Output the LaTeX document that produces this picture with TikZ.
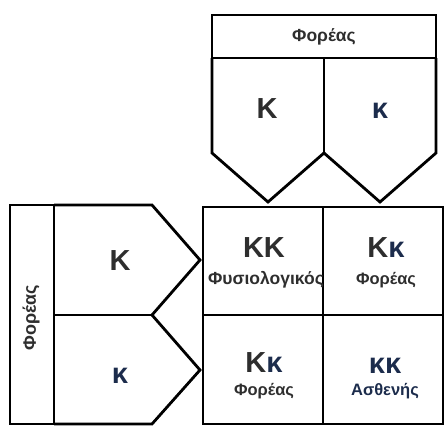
\documentclass[tikz,border=0pt]{standalone}
\usepackage{fontspec}
\setmainfont{Liberation Sans}
\definecolor{ink}{HTML}{2E2E2E}
\definecolor{navy}{HTML}{1C2C4C}
\tikzset{
  cell/.style={line width=2.8pt, draw=black, line join=miter},
  big/.style={font=\fontsize{29}{29}\selectfont\bfseries, text=ink, inner sep=0pt},
  tag/.style={font=\fontsize{16.5}{16.5}\selectfont\bfseries, text=ink, inner sep=0pt},
}
\begin{document}
\begin{tikzpicture}[x=1pt,y=-1pt]
\useasboundingbox (0,0) rectangle (445,426);
% top parent
\draw[cell] (212,15) rectangle (436,58);
\draw[cell] (212,58) -- (212,153) -- (268,202) -- (324,153) -- (380,202) -- (436,153) -- (436,58);
\draw[cell] (324,58) -- (324,153);
\node[tag, font=\fontsize{17.5}{17.5}\selectfont\bfseries] (topname) at (324,37) {Φορέας};
\node[big] (topA) at (267,109) {Κ};
\node[big, text=navy] (topa) at (380,111) {κ};
% left parent
\draw[cell] (10,205) rectangle (54,424);
\draw[cell] (54,205) -- (152,205) -- (200,260) -- (152,315) -- (200,370) -- (152,424) -- (54,424);
\draw[cell] (54,315) -- (152,315);
\node[tag, font=\fontsize{18}{18}\selectfont\bfseries, rotate=90] (leftname) at (31,318) {Φορέας};
\node[big] (leftA) at (120,261) {Κ};
\node[big, text=navy] (lefta) at (120,376) {κ};
% offspring
\draw[cell] (203,207) rectangle (443,424);
\draw[cell] (323,207) -- (323,424);
\draw[cell] (203,315) -- (443,315);
\node[big] (AA) at (264,248) {ΚΚ};
\node[tag, font=\fontsize{17.5}{17.5}\selectfont\bfseries] (AAname) at (266,280) {Φυσιολογικός};
\node[big] (Aa1) at (386,248) {Κ\textcolor{navy}{κ}};
\node[tag] (Aa1name) at (386,280) {Φορέας};
\node[big] (Aa2) at (264,363) {Κ\textcolor{navy}{κ}};
\node[tag] (Aa2name) at (264,391) {Φορέας};
\node[big, text=navy] (aa) at (385,366) {κκ};
\node[tag, text=navy] (aaname) at (385,391) {Ασθενής};
\end{tikzpicture}
\end{document}
